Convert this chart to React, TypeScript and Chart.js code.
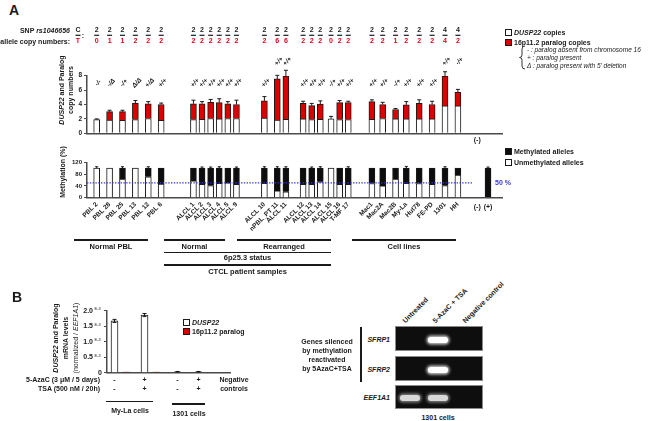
import React, { useEffect, useRef } from 'react';
import { Chart, registerables } from 'chart.js';
Chart.register(...registerables);

const FONT = '"Liberation Sans", Arial, Helvetica, sans-serif';
const RED = '#dc0000';
const SNP_RED = '#e3001b';
const INK = '#1a1a1a';
const AXIS = '#4a4a4a';
const BLUE = '#3a3ad0';

// ---------------- Panel A data ----------------
const samples = [
  'PBL 2', 'PBL 28', 'PBL 25', 'PBL 13', 'PBL 12', 'PBL 6',
  'ALCL 1', 'ALCL 2', 'ALCL 3', 'ALCL 4', 'ALCL 5', 'ALCL 9',
  'ALCL 10', 'nPBL_PT 11', 'ALCL 11',
  'ALCL 12', 'ALCL 13', 'ALCL 14', 'ALCL 15', 'ALCL 16', 'T-MF 17',
  'Mac1', 'Mac2A', 'Mac2B', 'My-La', 'Hut78', 'FE-PD', '1301', 'HH',
];
const snpCopiesC = [2, 2, 2, 2, 2, 2, 2, 2, 2, 2, 2, 2, 2, 2, 2, 2, 2, 2, 2, 2, 2, 2, 2, 2, 2, 2, 2, 4, 4];
const snpCopiesT = [0, 1, 1, 2, 2, 2, 2, 2, 2, 2, 2, 2, 2, 6, 6, 2, 2, 2, 0, 2, 2, 2, 2, 1, 2, 2, 2, 4, 2];
const dusp22Copies = [1.9, 1.85, 1.8, 1.9, 2.05, 1.8, 1.9, 1.95, 2.05, 2.0, 2.05, 2.05, 2.1, 1.85, 1.95, 2.0, 1.9, 1.95, 2.0, 1.9, 1.9, 1.95, 2.05, 2.0, 2.0, 2.0, 2.0, 3.8, 3.8];
const paralogCopies = [0, 1.15, 1.2, 2.3, 2.05, 2.2, 2.2, 2.15, 2.25, 2.25, 2.05, 1.95, 2.4, 5.7, 6.0, 2.15, 1.95, 2.1, 0, 2.35, 2.35, 2.45, 1.95, 1.3, 1.95, 2.15, 2.0, 4.15, 1.9];
const copyErr = [0.1, 0.2, 0.2, 0.35, 0.3, 0.2, 0.5, 0.3, 0.4, 0.55, 0.3, 0.6, 0.6, 0.5, 0.8, 0.3, 0.3, 0.45, 0.35, 0.3, 0.2, 0.25, 0.3, 0.15, 0.45, 0.5, 0.45, 0.6, 0.4];
const paralogStatus = [
  '-/-', '-/Δ', '-/+', 'Δ/Δ', '+/Δ', '+/+',
  '+/+', '+/+', '+/+', '+/+', '+/+', '+/+',
  '+/+', '+/+', '+/+',
  '+/+', '+/+', '+/+', '-/+', '+/+', '+/+',
  '+/+', '+/+', '-/+', '+/+', '+/+', '+/+', '+/+', '-/+',
];
const unmethylatedPct = [100, 100, 63, 100, 71, 46, 57, 45, 41, 49, 50, 45, 49, 23, 20, 45, 45, 54, 100, 45, 45, 48, 40, 63, 49, 48, 45, 41, 77];
const methylatedPct = [0, 0, 37, 0, 29, 54, 43, 55, 59, 51, 50, 55, 51, 77, 80, 55, 55, 46, 0, 55, 55, 52, 60, 37, 51, 52, 55, 59, 23];
const methErr = [5, 0, 5, 0, 5, 0, 0, 4, 4, 5, 0, 4, 5, 5, 5, 0, 4, 5, 0, 0, 5, 0, 0, 0, 6, 0, 0, 5, 0];
const controls = ['(-)', '(+)'];
const controlMethylated = [0, 100];
const controlMethErr = [0, 4];
const copyTickStep = 2;
const copyMax = 8;
const methTickStep = 20;
const methMax = 120;
const thresholdPct = 50;
const thresholdLabel = '50 %';

// ---------------- Panel B data ----------------
const bConditions = ['My-La untreated', 'My-La 5-AzaC+TSA', '1301 untreated', '1301 5-AzaC+TSA'];
const bDusp22 = [1.67, 1.86, 0.03, 0.03];
const bDusp22Err = [0.05, 0.05, 0.01, 0.01];
const bParalog = [0.02, 0.02, 0, 0];
const bTickValues = [0, 0.5, 1.0, 1.5, 2.0];
const bTickExp = 'E-3';
const azaRow = ['-', '+', '-', '+'];
const tsaRow = ['-', '+', '-', '+'];

// ---------------- Layout (slots on a category axis) ----------------
const A_SLOTS = 193;
const SAMPLE_SLOT = [4, 10, 16, 22, 28, 34, 49, 53, 57, 61, 65, 69, 82, 88, 92, 100, 104, 108, 113, 117, 121, 132, 137, 143, 148, 154, 160, 166, 172];
const CONTROL_SLOT = [181, 186];
const B_SLOTS = 41;
const B_SLOT = [2, 12, 23, 30];
const B_PAIR = 4;

function spread(n: number, slots: number[], vals: any[]) {
  const a: any[] = new Array(n).fill(null);
  slots.forEach((s, i) => { a[s] = vals[i]; });
  return a;
}
const f = (size: number, style = 'bold') => `${style} ${size}px ${FONT}`;

function makeTop(canvas: HTMLCanvasElement) {
  const labels = new Array(A_SLOTS).fill('');
  labels[CONTROL_SLOT[0]] = controls[0];
  const decor = {
    id: 'topDecor',
    afterDatasetsDraw(chart: any) {
      const { ctx, chartArea, scales: { x, y } } = chart;
      ctx.save();
      samples.forEach((_, i) => {
        const px = x.getPixelForValue(SAMPLE_SLOT[i]);
        const total = dusp22Copies[i] + paralogCopies[i];
        const yTop = y.getPixelForValue(total);
        const yErr = y.getPixelForValue(total + copyErr[i]);
        ctx.strokeStyle = INK; ctx.lineWidth = 1;
        ctx.beginPath();
        ctx.moveTo(px, yTop); ctx.lineTo(px, yErr);
        ctx.moveTo(px - 2, yErr); ctx.lineTo(px + 2, yErr);
        ctx.stroke();
        const level = total + copyErr[i] > 5.5 ? 10 : 7;
        ctx.save();
        ctx.translate(px + 1.5, y.getPixelForValue(level));
        ctx.rotate(-Math.PI / 4);
        ctx.font = f(6.5, 'italic bold');
        ctx.textAlign = 'center'; ctx.textBaseline = 'middle';
        ctx.fillStyle = INK;
        ctx.fillText(paralogStatus[i], 0, 0);
        ctx.restore();
        ctx.font = f(7);
        ctx.textAlign = 'center'; ctx.textBaseline = 'middle';
        ctx.fillStyle = INK;
        ctx.fillText(String(snpCopiesC[i]), px, chartArea.top - 45.5);
        ctx.fillRect(px - 2.5, chartArea.top - 41, 5, 1.2);
        ctx.fillStyle = SNP_RED;
        ctx.fillText(String(snpCopiesT[i]), px, chartArea.top - 34.5);
      });
      const hx = chartArea.left - 9;
      ctx.fillStyle = INK;
      ctx.fillText('C', hx, chartArea.top - 45.5);
      ctx.fillRect(hx - 2.5, chartArea.top - 41, 5, 1.2);
      ctx.fillText(':', hx + 5, chartArea.top - 40);
      ctx.fillStyle = SNP_RED;
      ctx.fillText('T', hx, chartArea.top - 34.5);
      ctx.restore();
    },
  };
  return new Chart(canvas, {
    type: 'bar',
    data: {
      labels,
      datasets: [
        { label: 'DUSP22 copies', data: spread(A_SLOTS, SAMPLE_SLOT, dusp22Copies), backgroundColor: '#fff', borderColor: INK, borderWidth: 1, barThickness: 6 },
        { label: '16p11.2 paralog copies', data: spread(A_SLOTS, SAMPLE_SLOT, paralogCopies), backgroundColor: RED, borderColor: INK, borderWidth: 1, barThickness: 6 },
      ],
    },
    options: {
      animation: false,
      responsive: false,
      layout: { padding: { left: 67, right: 18, top: 55.7, bottom: 2.7 } },
      plugins: { legend: { display: false }, tooltip: { enabled: false } },
      scales: {
        x: {
          stacked: true,
          grid: { display: false, drawTicks: false },
          border: { display: true, color: AXIS, width: 1.5 },
          ticks: { autoSkip: false, minRotation: 0, maxRotation: 0, font: { family: FONT, size: 7, weight: 'bold' }, color: INK, padding: 3 },
          afterFit: (s: any) => { s.height = 14; },
        },
        y: {
          stacked: true, min: 0, max: copyMax,
          ticks: { stepSize: copyTickStep, font: { family: FONT, size: 6.5, weight: 'bold' }, color: INK, padding: 2 },
          grid: { drawOnChartArea: false, drawTicks: true, tickLength: 3, color: AXIS },
          border: { display: true, color: AXIS, width: 1.5 },
          afterFit: (s: any) => { s.width = 20; },
        },
      },
    } as any,
    plugins: [decor],
  });
}

function makeMeth(canvas: HTMLCanvasElement) {
  const labels = spread(A_SLOTS, SAMPLE_SLOT, samples).map((v) => v || '');
  const decor = {
    id: 'methDecor',
    afterDatasetsDraw(chart: any) {
      const { ctx, chartArea, scales: { x, y } } = chart;
      ctx.save();
      const errs = [...methErr, ...controlMethErr];
      const slots = [...SAMPLE_SLOT, ...CONTROL_SLOT];
      const totals = [...unmethylatedPct.map((u, i) => u + methylatedPct[i]), ...controlMethylated];
      slots.forEach((s, i) => {
        if (!errs[i]) return;
        const px = x.getPixelForValue(s);
        const y0 = y.getPixelForValue(totals[i]);
        const y1 = y.getPixelForValue(totals[i] + errs[i]);
        ctx.strokeStyle = INK; ctx.lineWidth = 1;
        ctx.beginPath(); ctx.moveTo(px, y0); ctx.lineTo(px, y1);
        ctx.moveTo(px - 1.5, y1); ctx.lineTo(px + 1.5, y1); ctx.stroke();
      });
      const ty = y.getPixelForValue(thresholdPct);
      ctx.strokeStyle = BLUE; ctx.lineWidth = 1.2; ctx.setLineDash([1.4, 1.4]);
      ctx.beginPath(); ctx.moveTo(chartArea.left, ty); ctx.lineTo(x.getPixelForValue(CONTROL_SLOT[0]) - 4, ty); ctx.stroke();
      ctx.setLineDash([]);
      ctx.fillStyle = BLUE; ctx.font = f(7); ctx.textAlign = 'left'; ctx.textBaseline = 'middle';
      ctx.fillText(thresholdLabel, x.getPixelForValue(CONTROL_SLOT[1]) + 7, ty);
      ctx.fillStyle = INK; ctx.textAlign = 'center';
      controls.forEach((c, i) => ctx.fillText(c, x.getPixelForValue(CONTROL_SLOT[i]), chartArea.bottom + 9.5));
      ctx.restore();
    },
  };
  return new Chart(canvas, {
    type: 'bar',
    data: {
      labels,
      datasets: [
        { label: 'Unmethylated alleles', data: spread(A_SLOTS, SAMPLE_SLOT, unmethylatedPct), backgroundColor: '#fff', borderColor: INK, borderWidth: 1, barThickness: 6 },
        { label: 'Methylated alleles', data: spread(A_SLOTS, [...SAMPLE_SLOT, ...CONTROL_SLOT], [...methylatedPct, ...controlMethylated]), backgroundColor: '#0d0d0d', borderColor: INK, borderWidth: 1, barThickness: 6 },
      ],
    },
    options: {
      animation: false,
      responsive: false,
      layout: { padding: { left: 67, right: 18, top: 12.3, bottom: 0 } },
      plugins: { legend: { display: false }, tooltip: { enabled: false } },
      scales: {
        x: {
          stacked: true,
          grid: { display: false, drawTicks: false },
          border: { display: true, color: AXIS, width: 1.5 },
          ticks: { autoSkip: false, minRotation: 45, maxRotation: 45, font: { family: FONT, size: 6.5, weight: 'bold' }, color: INK, padding: 3 },
          afterFit: (s: any) => { s.height = 52.3; },
        },
        y: {
          stacked: true, min: 0, max: methMax,
          ticks: { stepSize: methTickStep, font: { family: FONT, size: 6, weight: 'bold' }, color: INK, padding: 2 },
          grid: { drawOnChartArea: false, drawTicks: true, tickLength: 3, color: AXIS },
          border: { display: true, color: AXIS, width: 1.5 },
          afterFit: (s: any) => { s.width = 20; },
        },
      },
    } as any,
    plugins: [decor],
  });
}

function makeB(canvas: HTMLCanvasElement) {
  const decor = {
    id: 'bDecor',
    afterDatasetsDraw(chart: any) {
      const { ctx, chartArea, scales: { x, y } } = chart;
      ctx.save();
      bConditions.forEach((_, i) => {
        const px = x.getPixelForValue(B_SLOT[i]);
        const y0 = y.getPixelForValue(bDusp22[i] - bDusp22Err[i]);
        const y1 = y.getPixelForValue(bDusp22[i] + bDusp22Err[i]);
        ctx.strokeStyle = INK; ctx.lineWidth = 1;
        ctx.beginPath(); ctx.moveTo(px, y0); ctx.lineTo(px, y1);
        ctx.moveTo(px - 2, y1); ctx.lineTo(px + 2, y1);
        ctx.moveTo(px - 2, y0); ctx.lineTo(px + 2, y0); ctx.stroke();
      });
      ctx.fillStyle = INK; ctx.textBaseline = 'middle';
      bTickValues.forEach((v) => {
        const py = y.getPixelForValue(v);
        ctx.font = f(7); ctx.textAlign = 'right';
        if (v === 0) { ctx.fillText('0', chartArea.left - 5, py); return; }
        ctx.fillText(v.toFixed(1), chartArea.left - 14, py);
        ctx.font = f(4, 'normal'); ctx.textAlign = 'left';
        ctx.fillText(bTickExp, chartArea.left - 12.5, py - 1.5);
      });
      ctx.restore();
    },
  };
  return new Chart(canvas, {
    type: 'bar',
    data: {
      labels: new Array(B_SLOTS).fill(''),
      datasets: [
        { label: 'DUSP22', data: spread(B_SLOTS, B_SLOT, bDusp22), backgroundColor: '#fff', borderColor: INK, borderWidth: 1, barThickness: 7, grouped: false },
        { label: '16p11.2 paralog', data: spread(B_SLOTS, B_SLOT.map((s) => s + B_PAIR), bParalog), backgroundColor: RED, borderColor: INK, borderWidth: 1, barThickness: 7, grouped: false },
      ],
    },
    options: {
      animation: false,
      responsive: false,
      layout: { padding: { left: 97, right: 20, top: 15.7, bottom: 7.3 } },
      plugins: { legend: { display: false }, tooltip: { enabled: false } },
      scales: {
        x: {
          grid: { display: false, drawTicks: false },
          border: { display: true, color: AXIS, width: 1.5 },
          ticks: { display: false },
          afterFit: (s: any) => { s.height = 0; },
        },
        y: {
          min: 0, max: 2,
          ticks: { display: false, stepSize: 0.5 },
          grid: { drawOnChartArea: false, drawTicks: true, tickLength: 3, color: AXIS },
          border: { display: true, color: AXIS, width: 1.5 },
          afterFit: (s: any) => { s.width = 10; },
        },
      },
    } as any,
    plugins: [decor],
  });
}

type TP = { x: number; y: number; a?: 'l' | 'c' | 'r'; s?: number; b?: boolean; i?: boolean; c?: string; children?: any; st?: any };
function T({ x, y, a = 'l', s = 7, b = true, i = false, c = INK, children, st }: TP) {
  const tx = a === 'c' ? '-50%' : a === 'r' ? '-100%' : '0';
  return (
    <div style={{ position: 'absolute', left: x, top: y, transform: `translate(${tx},-50%)`, font: `${i ? 'italic ' : ''}${b ? 'bold ' : ''}${s}px ${FONT}`, color: c, whiteSpace: 'nowrap', lineHeight: 1, ...st }}>
      {children}
    </div>
  );
}
function V({ x, y, s = 7, b = true, children }: { x: number; y: number; s?: number; b?: boolean; children?: any }) {
  return (
    <div style={{ position: 'absolute', left: x, top: y, transform: 'translate(-50%,-50%) rotate(-90deg)', font: `${b ? 'bold ' : ''}${s}px ${FONT}`, color: INK, whiteSpace: 'nowrap', lineHeight: 1 }}>
      {children}
    </div>
  );
}
function D({ x, y, w, h = 1.5, c = INK }: { x: number; y: number; w: number; h?: number; c?: string }) {
  return <div style={{ position: 'absolute', left: x, top: y, width: w, height: h, background: c }} />;
}
function Sq({ x, y, c }: { x: number; y: number; c: string }) {
  return <div style={{ position: 'absolute', left: x, top: y - 3, width: 5, height: 5, background: c, border: `1px solid ${INK}` }} />;
}
function R45({ x, y, children }: { x: number; y: number; children?: any }) {
  return (
    <div style={{ position: 'absolute', left: x, top: y - 4, height: 8, lineHeight: '8px', transformOrigin: '0 50%', transform: 'rotate(-45deg)', font: `bold 7px ${FONT}`, color: INK, whiteSpace: 'nowrap' }}>
      {children}
    </div>
  );
}
function Band({ x, y, w, bright }: { x: number; y: number; w: number; bright: boolean }) {
  return (
    <div style={{ position: 'absolute', left: x - w / 2, top: y - 3, width: w, height: 6, borderRadius: 3, background: bright ? '#ffffff' : '#d8d8d8', boxShadow: bright ? '0 0 3px 1.5px rgba(255,255,255,0.8)' : '0 0 3px 1.5px rgba(210,210,210,0.6)' }} />
  );
}

const GEL_LANES = [408, 438, 468];
const gelLanes = ['Untreated', '5-AzaC + TSA', 'Negative control'];
const gelGenes = ['SFRP1', 'SFRP2', 'EEF1A1'];
const gelBands = [[false, true, false], [false, true, false], [true, true, false]];

export default function App() {
  const topRef = useRef<HTMLCanvasElement>(null);
  const methRef = useRef<HTMLCanvasElement>(null);
  const bRef = useRef<HTMLCanvasElement>(null);
  useEffect(() => {
    const charts = [makeTop(topRef.current!), makeMeth(methRef.current!), makeB(bRef.current!)];
    return () => charts.forEach((c) => c.destroy());
  }, []);

  const gelRows = [{ top: 326, h: 25 }, { top: 356, h: 25 }, { top: 385, h: 24 }];

  return (
    <div style={{ position: 'absolute', left: 0, top: 0, width: 650, height: 421, background: '#fff', overflow: 'hidden', fontFamily: FONT }}>
      <canvas ref={topRef} width={520} height={130} style={{ position: 'absolute', left: 0, top: 20, width: 520, height: 130 }} />
      <canvas ref={methRef} width={520} height={100} style={{ position: 'absolute', left: 0, top: 150, width: 520, height: 100 }} />
      <canvas ref={bRef} width={250} height={85} style={{ position: 'absolute', left: 0, top: 295, width: 250, height: 85 }} />

      <T x={9} y={10} s={14}>A</T>
      <T x={70} y={30} a="r">SNP <i>rs1046656</i></T>
      <T x={70} y={41} a="r">allele copy numbers:</T>

      <V x={61} y={90}><i>DUSP22</i> and Paralog</V>
      <V x={70} y={90}>copy numbers</V>
      <V x={62} y={172}>Methylation (%)</V>

      {/* copy-number legend */}
      <Sq x={505} y={32} c="#fff" />
      <T x={514} y={32}><i>DUSP22</i> copies</T>
      <Sq x={505} y={41.5} c={RED} />
      <T x={514} y={41.5}>16p11.2 paralog copies</T>
      <svg style={{ position: 'absolute', left: 518, top: 45 }} width={9} height={25}>
        <path d="M7,1 Q4,1 4,4 L4,10 Q4,12.5 1.5,12.5 Q4,12.5 4,15 L4,21 Q4,24 7,24" fill="none" stroke="#222" strokeWidth={0.9} />
      </svg>
      <T x={527} y={50} s={6.5} b={false} i>- : paralog absent from chromosome 16</T>
      <T x={527} y={58} s={6.5} b={false} i>+ : paralog present</T>
      <T x={527} y={66} s={6.5} b={false} i>Δ : paralog present with 5' deletion</T>

      {/* methylation legend */}
      <Sq x={505} y={151} c="#0d0d0d" />
      <T x={514} y={151}>Methylated alleles</T>
      <Sq x={505} y={161.5} c="#fff" />
      <T x={514} y={161.5}>Unmethylated alleles</T>

      {/* group brackets */}
      <D x={74} y={239} w={74} />
      <T x={111} y={247} a="c" s={7.5}>Normal PBL</T>
      <D x={164} y={239} w={61} />
      <T x={194.5} y={247} a="c" s={7.5}>Normal</T>
      <D x={237} y={239} w={94} />
      <T x={284} y={247} a="c" s={7.5}>Rearranged</T>
      <D x={352} y={239} w={104} />
      <T x={404} y={247} a="c" s={7.5}>Cell lines</T>
      <D x={164} y={251.5} w={167} />
      <T x={247.5} y={258} a="c" s={7.5}>6p25.3 status</T>
      <D x={164} y={264} w={167} />
      <T x={247.5} y={272} a="c" s={7.5}>CTCL patient samples</T>

      {/* Panel B */}
      <T x={12} y={297} s={14}>B</T>
      <V x={55} y={338}><i>DUSP22</i> and Paralog</V>
      <V x={65} y={338}>mRNA levels</V>
      <V x={75} y={338} b={false}>(normalized / <i>EEF1A1</i>)</V>
      <Sq x={183} y={322} c="#fff" />
      <T x={192} y={322} i>DUSP22</T>
      <Sq x={183} y={330.5} c={RED} />
      <T x={192} y={330.5}>16p11.2 paralog</T>
      <T x={100} y={378.5} a="r">5-AzaC (3 μM / 5 days)</T>
      <T x={100} y={388} a="r">TSA (500 nM / 20h)</T>
      {[114.5, 144.5, 177.5, 198.5].map((x, i) => (
        <React.Fragment key={i}>
          <T x={x} y={378.5} a="c">{azaRow[i]}</T>
          <T x={x} y={388} a="c">{tsaRow[i]}</T>
        </React.Fragment>
      ))}
      <T x={234} y={379} a="c">Negative</T>
      <T x={234} y={388} a="c">controls</T>
      <D x={106} y={400.5} w={47} />
      <T x={130} y={409.5} a="c">My-La cells</T>
      <D x={172} y={403} w={33} />
      <T x={189} y={413} a="c">1301 cells</T>

      {/* gel */}
      {gelLanes.map((l, i) => <R45 key={l} x={GEL_LANES[i] - 4} y={322}>{l}</R45>)}
      {gelRows.map((r, gi) => (
        <React.Fragment key={gi}>
          <div style={{ position: 'absolute', left: 395, top: r.top, width: 88, height: r.h, background: '#0e0e0e', border: '1px solid #8a8a8a', boxSizing: 'border-box' }} />
          {gelBands[gi].map((on, li) => on ? <Band key={li} x={GEL_LANES[li] + (li === 0 ? 2 : 0)} y={r.top + r.h / 2 + 1} w={20} bright={gi < 2} /> : null)}
          <T x={390} y={r.top + r.h / 2} a="r" i>{gelGenes[gi]}</T>
        </React.Fragment>
      ))}
      <D x={360} y={327} w={1.5} h={55} />
      <T x={327} y={341} a="c">Genes silenced</T>
      <T x={327} y={350} a="c">by methylation</T>
      <T x={327} y={359} a="c">reactivated</T>
      <T x={327} y={368} a="c">by 5AzaC+TSA</T>
      <T x={438} y={417} a="c">1301 cells</T>
    </div>
  );
}
